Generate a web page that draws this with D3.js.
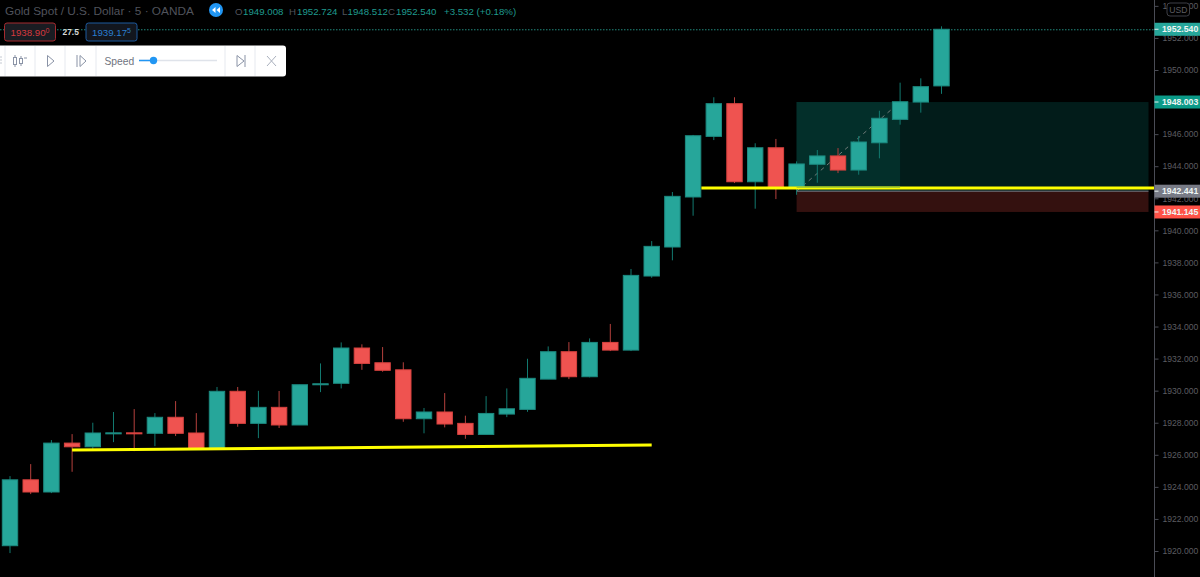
<!DOCTYPE html>
<html>
<head>
<meta charset="utf-8">
<script src="https://cdn.jsdelivr.net/npm/d3@7"></script>
<style>
html, body { margin: 0; padding: 0; background: #000; overflow: hidden; }
text { font-family: "Liberation Sans", sans-serif; }
</style>
</head>
<body>
<script>
const opens = [1920.33, 1924.44, 1923.68, 1926.73, 1926.50, 1927.34, 1927.37, 1927.34, 1928.34, 1927.36,
	1926.36, 1929.96, 1927.96, 1928.96, 1927.86, 1930.37, 1930.46, 1932.66, 1931.74, 1931.30,
	1928.25, 1928.67, 1927.96, 1927.27, 1928.54, 1928.83, 1930.72, 1932.43, 1930.87, 1933.01,
	1932.53, 1937.15, 1938.96, 1942.08, 1945.86, 1947.90, 1943.03, 1945.15, 1942.70, 1944.12,
	1944.64, 1943.76, 1945.46, 1946.92, 1948.00, 1949.008]
const highs = [1924.67, 1925.42, 1926.92, 1927.29, 1928.00, 1928.67, 1928.85, 1928.60, 1929.35, 1928.60,
	1930.23, 1930.23, 1929.99, 1929.98, 1930.37, 1931.70, 1933.01, 1932.89, 1932.72, 1931.77,
	1928.92, 1929.85, 1928.44, 1929.66, 1930.14, 1931.99, 1932.76, 1933.03, 1933.26, 1934.16,
	1937.59, 1939.33, 1942.39, 1945.95, 1948.30, 1948.30, 1945.43, 1945.70, 1944.30, 1945.01,
	1945.13, 1945.88, 1947.46, 1949.21, 1949.48, 1952.724]
const lows = [1919.87, 1923.55, 1923.61, 1924.94, 1926.36, 1926.79, 1926.23, 1926.54, 1927.17, 1926.36,
	1926.30, 1927.75, 1927.04, 1927.67, 1927.86, 1929.91, 1930.14, 1931.30, 1931.18, 1928.06,
	1927.34, 1927.71, 1927.00, 1927.27, 1928.35, 1928.68, 1930.72, 1930.72, 1930.83, 1932.47,
	1932.47, 1937.04, 1938.13, 1940.91, 1945.63, 1942.95, 1941.35, 1941.95, 1942.22, 1942.97,
	1943.57, 1943.47, 1944.49, 1946.59, 1947.34, 1948.512]
const closes = [1924.44, 1923.68, 1926.73, 1926.50, 1927.36, 1927.37, 1927.34, 1928.34, 1927.34, 1926.36,
	1929.96, 1927.96, 1928.96, 1927.86, 1930.37, 1930.43, 1932.66, 1931.70, 1931.27, 1928.25,
	1928.67, 1927.92, 1927.27, 1928.58, 1928.87, 1930.77, 1932.43, 1930.87, 1933.01, 1932.53,
	1937.19, 1939.00, 1942.12, 1945.90, 1947.90, 1943.03, 1945.15, 1942.70, 1944.14, 1944.64,
	1943.76, 1945.51, 1946.99, 1948.02, 1948.96, 1952.540]

const priceTicks = d3.range(1920, 1956, 2)
const lastPrice = 1952.540
const takeProfit = 1948.003
const entry = 1942.441
const stopLoss = 1941.145
const trendLow = [[3, 1926.30], [31, 1926.61]]
const trendHigh = [[33.4, 1942.64], [55.3, 1942.64]]
const positionBars = [38, 43, 55]
const headerStats = [["O", "1949.008"], ["H", "1952.724"], ["L", "1948.512"], ["C", "1952.540"]]

const width = 1200, height = 577
const upColor = "#26a69a", downColor = "#ef5350"

const x = d3.scaleLinear([0, 45], [10, 941.5])
const y = d3.scaleLinear([1920, 1950], [551, 70])

const svg = d3.select("body").append("svg")
	.attr("width", width)
	.attr("height", height)
	.attr("viewBox", [0, 0, width, height])
	.style("display", "block")
	.style("background", "#000")

// last price dotted line
svg.append("line")
	.attr("x1", 0).attr("x2", 1154)
	.attr("y1", y(lastPrice) + 0.5).attr("y2", y(lastPrice) + 0.5)
	.attr("stroke", "#22897d")
	.attr("stroke-dasharray", "1.5 1.5")

// long position tool
svg.append("rect")
	.attr("x", x(positionBars[0])).attr("width", x(positionBars[2]) - x(positionBars[0]))
	.attr("y", y(takeProfit)).attr("height", y(entry) - y(takeProfit))
	.attr("fill", "#021c1a")
svg.append("rect")
	.attr("x", x(positionBars[0])).attr("width", x(positionBars[1]) - x(positionBars[0]))
	.attr("y", y(takeProfit)).attr("height", y(entry) - y(takeProfit))
	.attr("fill", "#032f2a")
svg.append("rect")
	.attr("x", x(positionBars[0])).attr("width", x(positionBars[2]) - x(positionBars[0]))
	.attr("y", y(entry)).attr("height", y(stopLoss) - y(entry))
	.attr("fill", "#34110f")
svg.append("line")
	.attr("x1", x(positionBars[0])).attr("x2", x(positionBars[2]))
	.attr("y1", y(entry)).attr("y2", y(entry))
	.attr("stroke", "#787b86")
svg.append("line")
	.attr("x1", x(positionBars[0])).attr("x2", x(positionBars[1]))
	.attr("y1", y(entry)).attr("y2", y(takeProfit))
	.attr("stroke", "#6f7a78")
	.attr("stroke-dasharray", "4 4")

// candles
const candles = svg.append("g")
	.selectAll("g")
	.data(d3.range(opens.length))
	.join("g")

candles.append("line")
	.attr("x1", i => x(i)).attr("x2", i => x(i))
	.attr("y1", i => y(highs[i])).attr("y2", i => y(lows[i]))
	.attr("stroke", i => closes[i] >= opens[i] ? "#12796f" : "#b5403d")
	.attr("stroke-width", 1)

candles.append("rect")
	.attr("x", i => x(i) - 7.7)
	.attr("width", 15.4)
	.attr("y", i => y(Math.max(opens[i], closes[i])))
	.attr("height", i => Math.max(1, Math.abs(y(opens[i]) - y(closes[i]))))
	.attr("fill", i => closes[i] >= opens[i] ? upColor : downColor)
	.attr("stroke", i => closes[i] >= opens[i] ? "#1c8a80" : "#d8423f")
	.attr("stroke-width", 1)

// yellow trend lines
const line = d3.line().x(d => x(d[0])).y(d => y(d[1]))
svg.append("path").attr("d", line(trendLow)).attr("stroke", "#ffff00").attr("stroke-width", 3).attr("fill", "none")
svg.append("path").attr("d", line(trendHigh)).attr("stroke", "#ffff00").attr("stroke-width", 3).attr("fill", "none")
svg.append("path").attr("d", line([[positionBars[0], trendHigh[0][1]], [positionBars[1], trendHigh[0][1]]]))
	.attr("stroke", "#8fc23a").attr("stroke-width", 1.3).attr("fill", "none").attr("transform", "translate(0,-0.8)")

// price axis
const axis = svg.append("g")
	.attr("transform", "translate(1154.5,0)")
	.call(d3.axisRight(y).tickValues(priceTicks).tickSize(4).tickPadding(4).tickFormat(d3.format(".3f")))
axis.select(".domain").attr("stroke", "#4a4c55").attr("d", `M0,0V${height}`)
axis.selectAll(".tick line").attr("stroke", "#4a4c55")
axis.selectAll(".tick text")
	.attr("fill", "#5c5c61")
	.style("font-size", "8.6px")
	.style("font-family", "Liberation Sans, sans-serif")

// price labels
const labels = [
	[lastPrice, upColor],
	[takeProfit, "#0b9a88"],
	[entry, "#787b86"],
	[stopLoss, "#ff5247"],
]
labels.forEach(([v, c]) => {
	const g = svg.append("g").attr("transform", `translate(1154.5,${y(v)})`)
	g.append("rect").attr("y", -6.5).attr("width", 46).attr("height", 13).attr("fill", c)
	g.append("line").attr("x2", 4).attr("stroke", "#e8f2f0")
	g.append("text").attr("x", 7.5).attr("y", 3.2)
		.attr("fill", "#eef5f4")
		.attr("font-size", 8.7).attr("font-weight", 700)
		.text(v.toFixed(3))
})

// USD button
svg.append("rect").attr("x", 1167).attr("y", 3).attr("width", 22.5).attr("height", 13).attr("rx", 3)
	.attr("fill", "#000").attr("stroke", "#3d3f46")
svg.append("text").attr("x", 1178.3).attr("y", 13).attr("text-anchor", "middle")
	.attr("fill", "#5c5c61").attr("font-size", 8.6).text("USD")

// header
svg.append("text").attr("x", 5).attr("y", 15).attr("fill", "#50535c").attr("font-size", 11.8)
	.text("Gold Spot / U.S. Dollar · 5 · OANDA")
svg.append("circle").attr("cx", 216).attr("cy", 10).attr("r", 7).attr("fill", "#2196f3")
svg.append("path").attr("d", "M215.5,7L212,10L215.5,13ZM220,7L216.5,10L220,13Z").attr("fill", "#fff")

const statX = [235, 289, 342, 388]
headerStats.forEach(([k, v], i) => {
	svg.append("text").attr("x", statX[i]).attr("y", 15).attr("fill", "#50535c").attr("font-size", 9.7).text(k)
	svg.append("text").attr("x", statX[i] + (k === "L" ? 5.5 : 8)).attr("y", 15).attr("fill", "#1f9a8e").attr("font-size", 9.7).text(v)
})
svg.append("text").attr("x", 444).attr("y", 15).attr("fill", "#1f9a8e").attr("font-size", 9.7).text("+3.532 (+0.18%)")

// bid/ask boxes
const quote = (bx, w, stroke, fill, txt, sup) => {
	svg.append("rect").attr("x", bx).attr("y", 23).attr("width", w).attr("height", 18).attr("rx", 2.5)
		.attr("fill", fill).attr("stroke", stroke)
	const t = svg.append("text").attr("x", bx + 6).attr("y", 36).attr("fill", stroke === "#a52a2f" ? "#d5393f" : "#2a7fd0").attr("font-size", 9.7).text(txt)
	t.append("tspan").attr("font-size", 7).attr("dy", -3).text(sup)
}
quote(4.5, 51, "#a52a2f", "#1a1c22", "1938.90", "0")
svg.append("text").attr("x", 62.5).attr("y", 35).attr("fill", "#d8d8d8").attr("font-size", 8.4).attr("font-weight", 700).text("27.5")
quote(86, 51, "#1d5a9e", "#12161e", "1939.17", "5")

// replay toolbar
svg.append("rect").attr("x", -4).attr("y", 45.5).attr("width", 290).attr("height", 31).attr("rx", 3).attr("fill", "#fff")
const seps = [5, 35, 65, 96, 225, 255]
svg.selectAll(".sep").data(seps).join("line").attr("class", "sep")
	.attr("x1", d => d).attr("x2", d => d).attr("y1", 46).attr("y2", 76).attr("stroke", "#e6e9ef")
const iconColor = "#8a93a6"
const icons = svg.append("g").attr("fill", "none").attr("stroke", iconColor).attr("stroke-width", 1)
icons.append("path").attr("d", "M0,57h2M0,60h2M0,63h2").attr("stroke", "#c4c9d2")
icons.append("path").attr("d", "M15,55V67M21,56V66M24,58h3")
icons.append("rect").attr("x", 13.5).attr("y", 57.5).attr("width", 3).attr("height", 7).attr("fill", "#fff")
icons.append("rect").attr("x", 19.5).attr("y", 58.5).attr("width", 3).attr("height", 5).attr("fill", "#fff")
icons.append("path").attr("d", "M47.5,55.5L54,61L47.5,66.5Z")
icons.append("path").attr("d", "M77,55V67M80,55.5L86,61L80,66.5Z")
icons.append("path").attr("d", "M237,55.5L244,61L237,66.5ZM245,55V67")
icons.append("path").attr("d", "M267,56L276,66M276,56L267,66").attr("stroke", "#a9b0bd")
svg.append("text").attr("x", 104.5).attr("y", 65).attr("fill", "#6f7480").attr("font-size", 10.3).text("Speed")
svg.append("line").attr("x1", 139).attr("x2", 217).attr("y1", 60.5).attr("y2", 60.5).attr("stroke", "#dfe3ea").attr("stroke-width", 1.5)
svg.append("line").attr("x1", 139).attr("x2", 153).attr("y1", 60.5).attr("y2", 60.5).attr("stroke", "#2196f3").attr("stroke-width", 1.5)
svg.append("circle").attr("cx", 153.5).attr("cy", 60.5).attr("r", 3.7).attr("fill", "#2196f3")
</script>
</body>
</html>
